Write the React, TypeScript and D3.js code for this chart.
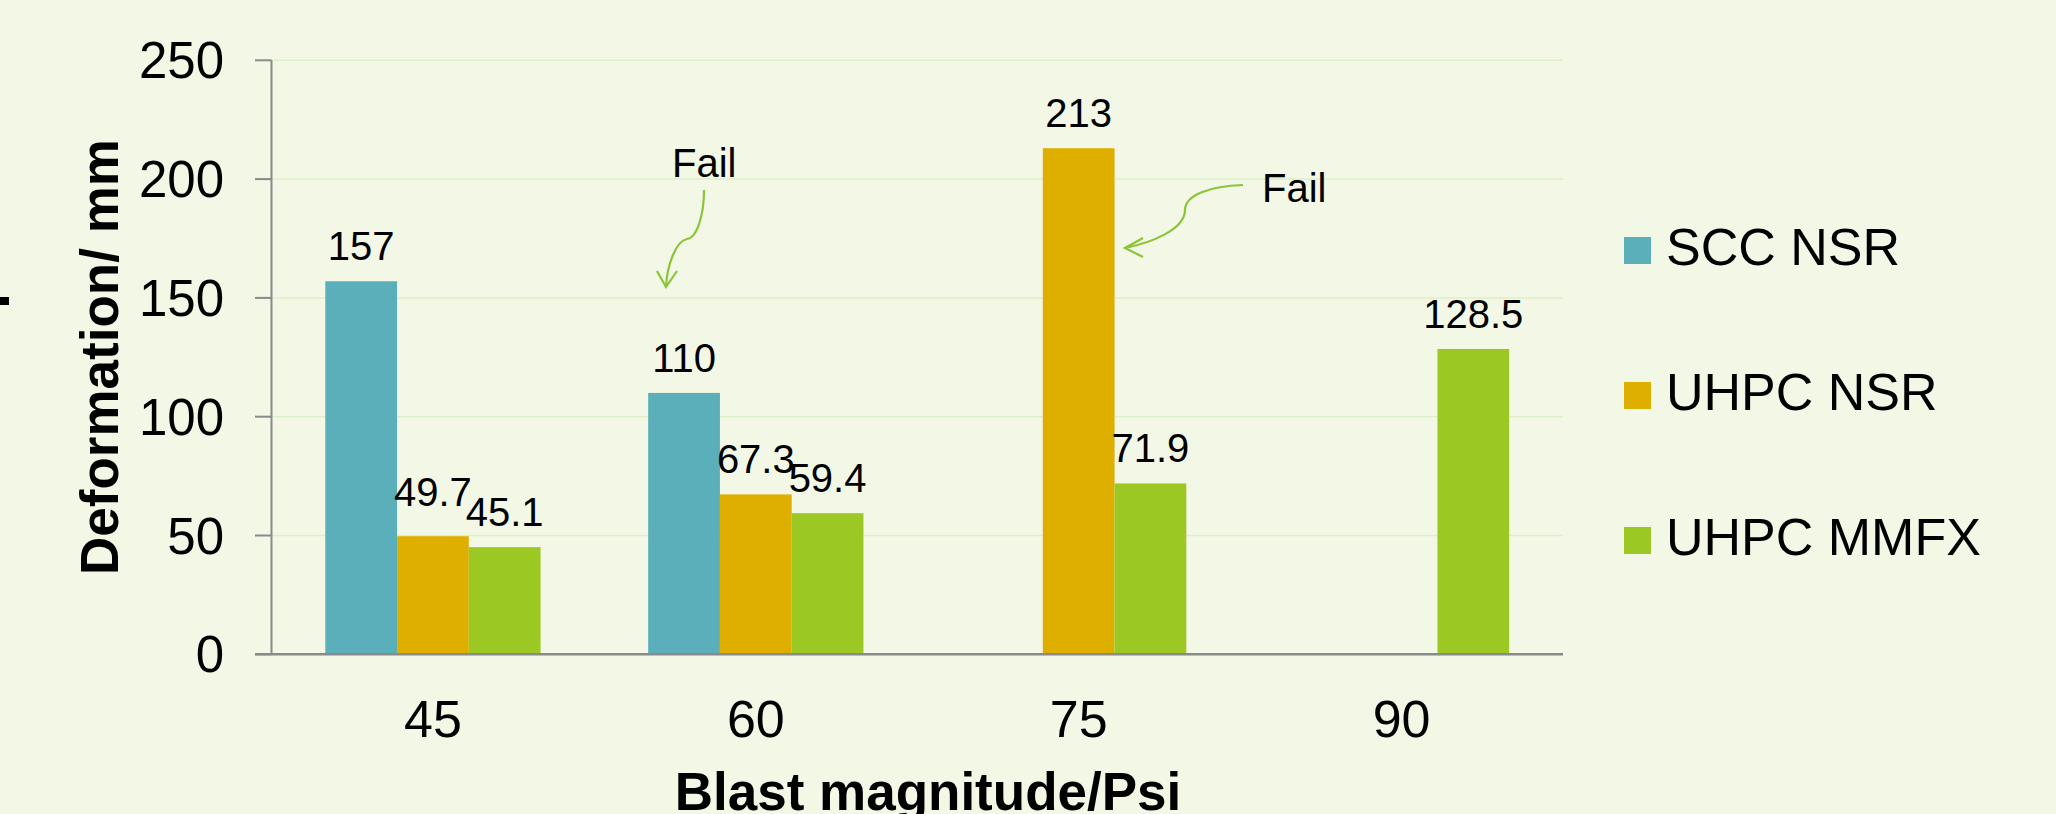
import React from 'react';
import * as d3 from 'd3';

// blast magnitudes (psi) and the three specimen series
const categories = ['45', '60', '75', '90'];
const seriesNames = ['SCC NSR', 'UHPC NSR', 'UHPC MMFX'];
const sccNsr = [157, 110, null, null];
const uhpcNsr = [49.7, 67.3, 213, null];
const uhpcMmfx = [45.1, 59.4, 71.9, 128.5];
const yTicks = [0, 50, 100, 150, 200, 250];

const colors = ['#5bafba', '#dfaf00', '#9bc823'];
const W = 2056;
const H = 814;

const App = () => {
  const values = [sccNsr, uhpcNsr, uhpcMmfx];

  const x = d3.scaleBand().domain(categories).range([271.5, 1563]).padding(0);
  const xInner = d3.scaleBand().domain(seriesNames).range([0, x.bandwidth()]).paddingInner(0).paddingOuter(0.75);
  const y = d3.scaleLinear().domain([0, 250]).range([654.3, 60.3]);

  const font = 'Arial, "Liberation Sans", sans-serif';
  const arrowColor = '#8cc43a';
  // the 49.7 label sits a little higher so it clears 45.1
  const nudge = (si, ci) => (si === 1 && ci === 0 ? -9 : 0);

  return (
    <svg width={W} height={H} style={{ position: 'absolute', left: 0, top: 0 }} fontFamily={font}>
      <rect width={W} height={H} fill="#f2f7e6" />
      <rect x={0} y={297} width={9} height={8} fill="#000" />

      {/* gridlines */}
      {yTicks.filter(t => t > 0).map(t => (
        <line key={'g' + t} x1={x.range()[0]} x2={x.range()[1]} y1={y(t)} y2={y(t)} stroke="#dcefc6" strokeWidth={1.5} />
      ))}

      {/* bars */}
      {values.map((vals, si) =>
        vals.map((v, ci) => {
          if (v == null) return null;
          const bx = (x(categories[ci]) as number) + (xInner(seriesNames[si]) as number);
          return (
            <g key={si + '-' + ci}>
              <rect x={bx} y={y(v)} width={xInner.bandwidth()} height={y(0) - y(v)} fill={colors[si]} />
              <text x={bx + xInner.bandwidth() / 2} y={y(v) - 21 + nudge(si, ci)} textAnchor="middle" fontSize={40} fill="#000">{String(v)}</text>
            </g>
          );
        })
      )}

      {/* y axis */}
      <line x1={271.5} x2={271.5} y1={y(250)} y2={y(0)} stroke="#8a8a8a" strokeWidth={2} />
      {yTicks.map(t => (
        <g key={'t' + t}>
          <line x1={255} x2={271.5} y1={y(t)} y2={y(t)} stroke="#8a8a8a" strokeWidth={2} />
          <text x={224} y={y(t) + 18} textAnchor="end" fontSize={51} fill="#000">{t}</text>
        </g>
      ))}
      {/* x axis */}
      <line x1={255} x2={1563} y1={y(0)} y2={y(0)} stroke="#8a8a8a" strokeWidth={2.5} />
      {categories.map(c => (
        <text key={'x' + c} x={(x(c) as number) + x.bandwidth() / 2} y={737} textAnchor="middle" fontSize={52} fill="#000">{c}</text>
      ))}

      <text x={928} y={810} textAnchor="middle" fontSize={53} fontWeight="bold" fill="#000">Blast magnitude/Psi</text>
      <text transform="translate(118,357) rotate(-90)" textAnchor="middle" fontSize={53} fontWeight="bold" fill="#000">Deformation/ mm</text>

      {/* Fail annotations */}
      <text x={672} y={177} fontSize={40} fill="#000">Fail</text>
      <path d="M704,190 C704,215 697,238 687,239 C676,241 667,265 666,287" fill="none" stroke={arrowColor} strokeWidth={2.2} />
      <path d="M657,271 L666,287 L677,271" fill="none" stroke={arrowColor} strokeWidth={2.2} />
      <text x={1262} y={202} fontSize={40} fill="#000">Fail</text>
      <path d="M1243,185 C1210,186 1185,195 1185,210 C1185,230 1150,243 1125,248" fill="none" stroke={arrowColor} strokeWidth={2.2} />
      <path d="M1143,238 L1125,248 L1143,257" fill="none" stroke={arrowColor} strokeWidth={2.2} />

      {/* legend */}
      {seriesNames.map((name, i) => (
        <g key={name} transform={`translate(1624,${237 + i * 145})`}>
          <rect width={27} height={27} fill={colors[i]} />
          <text x={42} y={28} fontSize={52} fill="#000">{name}</text>
        </g>
      ))}
    </svg>
  );
};

export default App;
